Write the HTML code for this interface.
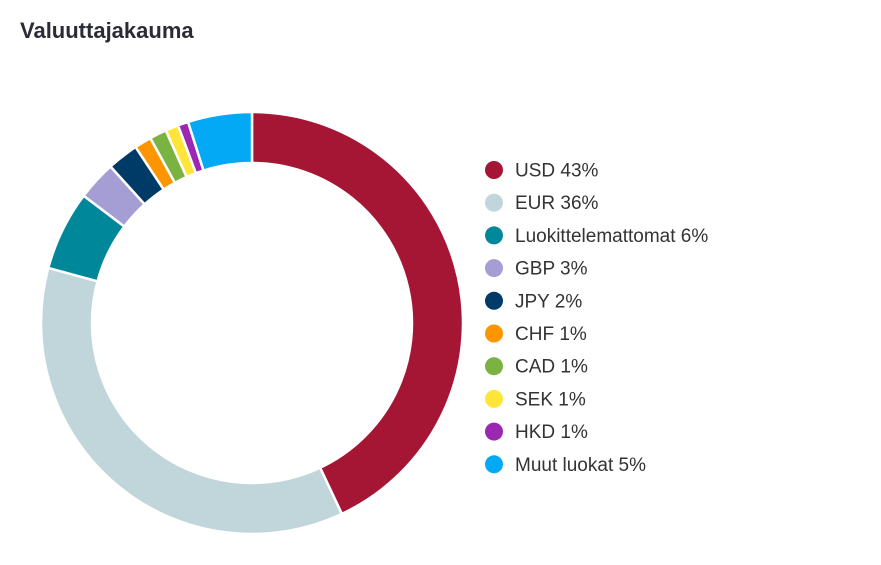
<!DOCTYPE html>
<html><head><meta charset="utf-8"><style>
body{margin:0;background:#fff;width:881px;height:560px;overflow:hidden;font-family:"Liberation Sans",sans-serif}
</style></head><body>
<svg width="881" height="560" xmlns="http://www.w3.org/2000/svg" id="s">
<text x="20" y="38" font-family="Liberation Sans,sans-serif" font-size="22" font-weight="bold" fill="#2b2b36">Valuuttajakauma</text>
<g id="pie"></g>
<g id="leg" font-family="Liberation Sans,sans-serif" font-size="19" fill="#333"></g>
</svg>
<script>
var d=[["USD 43%",43,"#a51534"],["EUR 36%",36.2,"#c1d6da"],["Luokittelemattomat 6%",6.1,"#00879a"],["GBP 3%",3.0,"#a59ed4"],["JPY 2%",2.4,"#003a66"],["CHF 1%",1.3,"#fd9500"],["CAD 1%",1.3,"#7ab342"],["SEK 1%",1.0,"#ffe53a"],["HKD 1%",0.8,"#9c27b0"],["Muut luokat 5%",4.9,"#03a9f4"]];
var cx=252,cy=323,R=211,r=160,a=0,h="",l="";
function p(rad,ang){var t=ang/100*2*Math.PI;return (cx+rad*Math.sin(t)).toFixed(2)+","+(cy-rad*Math.cos(t)).toFixed(2);}
d.forEach(function(s,i){var b=a+s[1],lg=s[1]>50?1:0;
h+='<path d="M'+p(R,a)+'A'+R+','+R+' 0 '+lg+' 1 '+p(R,b)+'L'+p(r,b)+'A'+r+','+r+' 0 '+lg+' 0 '+p(r,a)+'Z" fill="'+s[2]+'" stroke="#fff" stroke-width="2.5" stroke-linejoin="round"/>';
a=b;var y=170+i*32.7;
l+='<circle cx="494" cy="'+y+'" r="9" fill="'+s[2]+'"/><text x="515" y="'+(y+6.5)+'">'+s[0]+'</text>';});
document.getElementById("pie").innerHTML=h;document.getElementById("leg").innerHTML=l;
</script>
</body></html>
